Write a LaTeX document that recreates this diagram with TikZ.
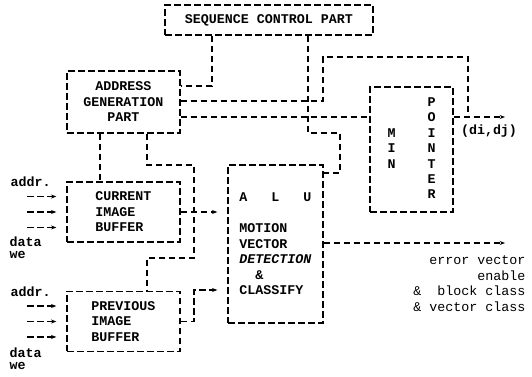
\documentclass[tikz,border=0pt]{standalone}
\usepackage{fontspec}
\setmainfont{Liberation Mono}
\usetikzlibrary{arrows.meta, positioning}

\begin{document}
\begin{tikzpicture}[x=0.75pt, y=-0.75pt, line width=1pt,
    every node/.style={font=\fontsize{10}{11.6}\selectfont, inner sep=0pt},
    block/.style={rectangle, draw, dash pattern=on 5pt off 2.5pt, align=center, font=\fontsize{10}{11.6}\selectfont\bfseries},
    link/.style={dash pattern=on 5pt off 2.5pt},
    sig/.style={link, -{Stealth[length=4pt, width=3pt]}, shorten >=7.5pt}]

    \useasboundingbox (0,0) rectangle (532,377);

    \node[block, minimum width=156pt, minimum height=22.5pt] (seqctl) at (269,20) {SEQUENCE CONTROL PART};
    \node[block, minimum width=84.75pt, minimum height=46.5pt] (addrgen) at (123.5,102) {ADDRESS\\GENERATION\\PART};
    \node[block, minimum width=84.75pt, minimum height=45pt, align=left] (curbuf) at (123.5,212) {CURRENT\\IMAGE\\BUFFER};
    \node[block, minimum width=84.75pt, minimum height=45pt, align=left] (prevbuf) at (123.5,321.5) {PREVIOUS\\IMAGE\\BUFFER};
    \node[block, minimum width=71.25pt, minimum height=118.5pt, align=left] (alu) at (275.5,244) {A\ \ \ L\ \ \ U\\[11.6pt]MOTION\\VECTOR\\\textit{DETECTION}\\\hphantom{MM}\&\\CLASSIFY};
    \node[block, minimum width=62.25pt, minimum height=93.75pt] (minptr) at (411.5,149.5) {\begin{tabular}{@{}l@{\hspace{24pt}}l@{}} & P\\ & O\\ M & I\\ I & N\\ N & T\\ & E\\ & R\end{tabular}};

    \node[anchor=west, font=\bfseries] (addrA) at (10,182) {addr.};
    \node[anchor=west, font=\bfseries] (dataA) at (9,242) {data};
    \node[anchor=west, font=\bfseries] (weA) at (9,255) {we};
    \node[anchor=west, font=\bfseries] (addrB) at (10,292) {addr.};
    \node[anchor=west, font=\bfseries] (dataB) at (9,353) {data};
    \node[anchor=west, font=\bfseries] (weB) at (9,366) {we};
    \node[font=\bfseries] (didj) at (489,131) {(di,dj)};
    \node[anchor=east, align=right] (errout) at (526,283.5) {error vector\\enable\\\&~~block class\\\& vector class};

    \coordinate (tap) at (468,117);
    \coordinate (ptrout) at (505,117);
    \coordinate (aluout) at (505,243);

    \draw[link] (seqctl.south -| 212,0) |- (addrgen.east |- 0,86);
    \draw[link] (seqctl.south -| 308,0) -- (308,133) -| (340,173) -- (alu.east |- 0,173);
    \draw[link] (addrgen.east |- 0,101) -| (323,57) -| (tap);
    \draw[link] (addrgen.east |- 0,117) -- (minptr.west |- 0,117);
    \draw[sig, shorten >=0pt] (minptr.east |- 0,117) -- (ptrout);
    \draw[link] (addrgen.south -| 100,0) -- (curbuf.north -| 100,0);
    \draw[link] (addrgen.south -| 147,0) |- (194,165) |- (147,258) -- (prevbuf.north -| 147,0);
    \draw[sig] (curbuf.east) -- (alu.west |- curbuf.east);
    \draw[sig] (prevbuf.east) -| (194,290) -- (alu.west |- 0,290);
    \draw[sig, shorten >=0pt] (alu.east |- 0,243) -- (aluout);

    \foreach \buf in {curbuf, prevbuf}
        \foreach \dy in {-11.6pt, 0pt, 11.6pt}
            \draw[sig] ([shift={(-29.25pt,\dy)}]\buf.west) -- ([yshift=\dy]\buf.west);
\end{tikzpicture}
\end{document}
